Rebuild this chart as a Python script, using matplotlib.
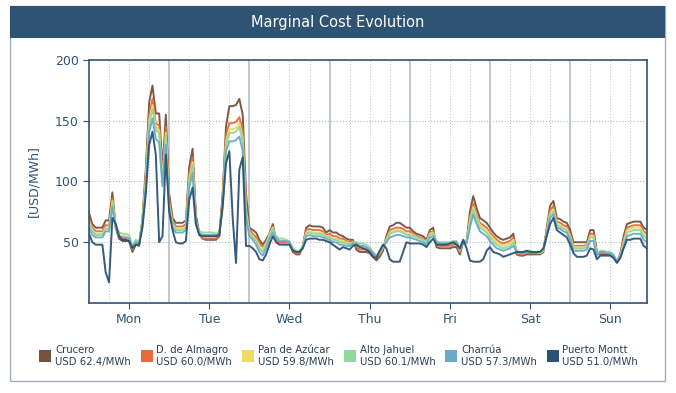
import matplotlib
matplotlib.use("Agg")
import matplotlib.pyplot as plt
from matplotlib.patches import Rectangle

# hourly marginal cost, Mon 00h .. Sun 23h (168 values each)
crucero = [74, 65, 62, 62, 62, 68, 68, 91, 62, 53, 51, 51, 51, 42, 48, 47, 70, 110, 165, 179, 156, 156, 110, 155,
           90, 70, 66, 66, 66, 68, 112, 127, 72, 58, 53, 52, 52, 52, 52, 55, 90, 145, 162, 162, 163, 168, 155, 90,
           62, 60, 58, 52, 48, 52, 57, 65, 52, 50, 50, 50, 50, 42, 40, 40, 47, 62, 64, 63, 63, 63, 62, 58,
           60, 58, 58, 56, 55, 53, 52, 52, 44, 42, 42, 42, 41, 38, 35, 38, 43, 55, 63, 64, 66, 66, 64, 62,
           62, 59, 57, 56, 55, 52, 60, 62, 46, 45, 45, 45, 45, 46, 46, 40, 50, 50, 75, 88, 78, 70, 68, 66,
           62, 58, 55, 53, 52, 53, 54, 57, 40, 39, 39, 40, 40, 40, 40, 40, 42, 62, 80, 84, 70, 69, 67, 66,
           60, 50, 50, 50, 50, 50, 60, 60, 42, 40, 40, 40, 40, 38, 34, 40, 55, 65, 66, 67, 67, 67, 62, 60]
almagro = [70, 62, 59, 59, 59, 64, 64, 86, 62, 55, 53, 53, 53, 44, 49, 48, 68, 105, 155, 168, 148, 146, 105, 145,
           85, 67, 63, 63, 63, 65, 106, 120, 69, 56, 53, 53, 53, 53, 53, 56, 85, 138, 148, 148, 149, 153, 142, 80,
           60, 57, 54, 49, 46, 50, 56, 63, 52, 50, 50, 50, 50, 43, 41, 41, 47, 60, 61, 60, 60, 60, 59, 56,
           57, 55, 55, 53, 53, 51, 50, 51, 46, 44, 44, 44, 43, 40, 37, 40, 45, 53, 60, 61, 62, 62, 61, 59,
           59, 57, 55, 54, 53, 51, 58, 59, 48, 47, 47, 47, 47, 48, 48, 42, 51, 50, 70, 82, 73, 66, 64, 62,
           58, 55, 52, 50, 49, 50, 51, 54, 41, 40, 40, 41, 41, 41, 41, 41, 43, 60, 76, 80, 67, 66, 64, 63,
           57, 47, 47, 47, 47, 48, 57, 57, 41, 41, 41, 41, 41, 39, 34, 40, 52, 62, 63, 64, 64, 64, 59, 57]
pan_azucar = [67, 60, 57, 57, 57, 62, 62, 84, 63, 56, 55, 55, 54, 45, 50, 49, 67, 102, 150, 163, 145, 142, 100, 140,
              82, 65, 61, 61, 61, 63, 102, 116, 67, 57, 55, 55, 55, 55, 55, 57, 82, 133, 143, 143, 144, 148, 136, 75,
              58, 55, 52, 47, 44, 49, 56, 62, 53, 51, 51, 51, 50, 44, 42, 42, 47, 58, 59, 58, 58, 58, 57, 55,
              55, 53, 53, 51, 51, 50, 49, 50, 48, 46, 46, 46, 44, 41, 38, 41, 46, 52, 58, 59, 60, 60, 59, 57,
              57, 56, 54, 53, 52, 50, 57, 58, 50, 49, 49, 49, 49, 50, 50, 43, 52, 50, 68, 79, 71, 64, 62, 60,
              56, 53, 50, 48, 47, 48, 49, 52, 42, 41, 41, 42, 42, 42, 42, 41, 43, 59, 74, 77, 65, 64, 62, 61,
              55, 46, 46, 46, 46, 47, 55, 55, 40, 42, 42, 42, 41, 39, 34, 39, 50, 60, 61, 62, 62, 62, 57, 55]
alto_jahuel = [66, 59, 56, 56, 56, 61, 61, 82, 64, 58, 57, 57, 56, 47, 52, 50, 66, 100, 147, 160, 142, 140, 98, 138,
               80, 64, 60, 60, 60, 62, 100, 113, 66, 59, 58, 58, 58, 58, 57, 58, 80, 130, 140, 140, 141, 145, 133, 73,
               57, 54, 51, 45, 42, 47, 55, 61, 55, 53, 53, 52, 51, 45, 43, 43, 47, 57, 58, 57, 57, 57, 56, 54,
               54, 52, 52, 50, 50, 49, 48, 50, 50, 49, 49, 48, 46, 42, 39, 42, 47, 51, 57, 58, 59, 59, 58, 56,
               56, 55, 54, 53, 52, 50, 56, 57, 51, 50, 50, 50, 50, 51, 51, 44, 52, 50, 66, 77, 69, 62, 60, 58,
               54, 51, 48, 46, 45, 46, 47, 50, 43, 42, 42, 43, 43, 42, 42, 42, 44, 58, 73, 75, 64, 63, 61, 60,
               54, 45, 45, 45, 45, 46, 54, 54, 40, 43, 43, 42, 42, 40, 34, 39, 48, 58, 59, 60, 60, 60, 55, 53]
charrua = [62, 56, 54, 54, 54, 59, 59, 79, 62, 55, 54, 54, 53, 46, 50, 49, 65, 95, 140, 152, 135, 132, 96, 130,
           78, 62, 58, 58, 58, 60, 95, 107, 65, 57, 56, 56, 56, 56, 56, 57, 78, 125, 133, 133, 134, 137, 125, 70,
           55, 52, 48, 42, 39, 45, 53, 58, 53, 51, 51, 51, 50, 44, 42, 42, 46, 55, 56, 55, 55, 55, 54, 53,
           52, 50, 50, 48, 48, 47, 47, 49, 49, 47, 47, 46, 44, 41, 38, 42, 47, 50, 54, 55, 56, 56, 55, 54,
           54, 53, 52, 51, 50, 48, 54, 55, 50, 49, 49, 49, 49, 50, 50, 44, 51, 49, 62, 73, 65, 59, 57, 55,
           51, 48, 45, 44, 43, 44, 45, 47, 42, 41, 41, 42, 42, 42, 42, 42, 44, 57, 70, 73, 62, 61, 59, 58,
           52, 43, 43, 43, 43, 44, 51, 51, 39, 42, 42, 41, 41, 39, 34, 38, 46, 55, 56, 57, 57, 57, 52, 50]
puerto_montt = [57, 50, 48, 48, 48, 25, 17, 70, 65, 55, 52, 52, 51, 45, 48, 48, 62, 90, 130, 141, 122, 50, 55, 122,
                75, 60, 50, 49, 49, 51, 85, 95, 65, 56, 55, 55, 55, 55, 55, 56, 80, 115, 125, 70, 33, 110, 120, 47,
                47, 45, 42, 36, 35, 40, 48, 55, 50, 48, 48, 48, 48, 43, 42, 42, 45, 52, 53, 53, 53, 52, 52, 51,
                50, 48, 46, 44, 46, 45, 44, 47, 48, 46, 45, 44, 42, 38, 37, 43, 48, 45, 36, 34, 34, 34, 42, 50,
                49, 49, 49, 49, 48, 46, 50, 53, 48, 48, 48, 48, 49, 50, 48, 45, 52, 45, 35, 34, 34, 34, 36, 43,
                46, 42, 41, 40, 38, 39, 40, 41, 42, 42, 42, 43, 42, 42, 42, 42, 45, 55, 65, 70, 60, 58, 56, 54,
                48, 41, 38, 38, 38, 39, 45, 44, 36, 39, 39, 39, 39, 37, 33, 37, 45, 52, 52, 53, 53, 53, 47, 45]

names = ["Crucero", "D. de Almagro", "Pan de Azúcar", "Alto Jahuel", "Charrúa", "Puerto Montt"]
averages = [62.4, 60.0, 59.8, 60.1, 57.3, 51.0]
series = [crucero, almagro, pan_azucar, alto_jahuel, charrua, puerto_montt]
colors = ["#76513b", "#e8693a", "#eedc66", "#90d89c", "#6aaac8", "#2c5273"]
days = ["Mon", "Tue", "Wed", "Thu", "Fri", "Sat", "Sun"]

navy = "#2f5372"
hours = list(range(len(crucero)))

fig = plt.figure(figsize=(6.76, 3.93), dpi=100)

# outer frame and title bar (behind the axes)
fig.patches.append(Rectangle((10 / 676, 1 - 381 / 393), 655 / 676, 375 / 393, transform=fig.transFigure,
                             facecolor="white", edgecolor="#a3adb8", lw=1, zorder=-10))
fig.patches.append(Rectangle((10 / 676, 1 - 38 / 393), 655 / 676, 32 / 393, transform=fig.transFigure,
                             facecolor=navy, edgecolor="none", zorder=-9))
fig.text(338 / 676, 1 - 22 / 393, "Marginal Cost Evolution", color="white", fontsize=10.5,
         ha="center", va="center")

ax = fig.add_axes([89 / 676, 1 - 303 / 393, 558 / 676, 243 / 393])
ax.set_facecolor("none")
for s, c in zip(series, colors):
    ax.plot(hours, s, color=c, lw=1.4, alpha=0.95)

ax.set_xlim(0, 167)
ax.set_ylim(0, 200)
ax.set_yticks([50, 100, 150, 200])
ax.set_xticks([12 + 24 * i for i in range(7)])
ax.set_xticklabels(days)
ax.tick_params(colors=navy, labelsize=9, length=4)
for sp in ax.spines.values():
    sp.set_color(navy)
    sp.set_linewidth(1.2)

# grid: dotted every 6h, solid at day boundaries
for h in range(6, 167, 6):
    if h % 24 == 0:
        ax.axvline(h, color="#b0bac3", lw=1.1, zorder=0)
    else:
        ax.axvline(h, color="#c2cbd2", lw=0.8, ls=":", zorder=0)
for v in [50, 100, 150]:
    ax.axhline(v, color="#b0bac3", lw=0.8, ls=":", zorder=0)

ax.set_ylabel("[USD/MWh]", color=navy, fontsize=9, labelpad=10)

# legend row
for i, (n, a, c) in enumerate(zip(names, averages, colors)):
    x0 = (39 + 101.5 * i) / 676
    fig.patches.append(Rectangle((x0, 1 - 362 / 393), 12 / 676, 12 / 393, transform=fig.transFigure,
                                 facecolor=c, edgecolor="none"))
    fig.text(x0 + 16 / 676, 1 - 350 / 393, n, fontsize=7.3, color="#2b3f52", va="center")
    fig.text(x0 + 16 / 676, 1 - 362 / 393, "USD %.1f/MWh" % a, fontsize=7.3, color="#2b3f52", va="center")

fig.savefig("out.png", dpi=100)
